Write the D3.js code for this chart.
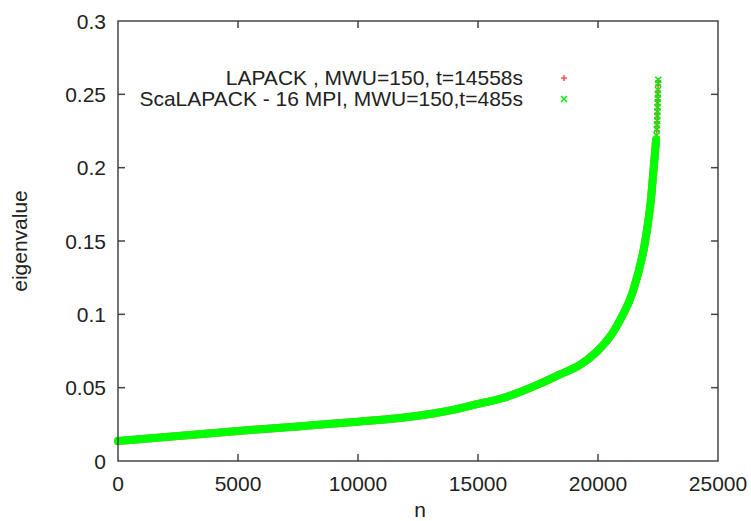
<!DOCTYPE html>
<html lang="en">
<head>
    <meta charset="UTF-8">
    <title>eigenvalue</title>
    <style>
        body { margin : 0; background : #fff }
        svg { display : block }
        text { font-family : "Liberation Sans", Arial, sans-serif; font-size : 21px; fill : #222 }
    </style>
</head>
<body>
    <script src="https://cdnjs.cloudflare.com/ajax/libs/d3/7.8.2/d3.min.js"></script>
    <script>

        // values
        const curveN = [0, 1000, 2500, 5000, 7500, 10000, 11750, 13000, 14000, 15000, 16000, 16750, 17583,
            18417, 19250, 19945, 20500, 20917, 21264, 21472, 21875, 22170, 22300, 22420]
        const curveVal = [0.0136, 0.0150, 0.0170, 0.0205, 0.0236, 0.0268, 0.0293, 0.0320, 0.0350, 0.0389, 0.0428, 0.0470, 0.0527,
            0.0590, 0.0655, 0.0745, 0.0848, 0.0961, 0.1075, 0.1166, 0.1418, 0.173, 0.196, 0.219]

        // isolated points at the top end
        const topN = [22440, 22450, 22460, 22465, 22470, 22475, 22480, 22485, 22490, 22495, 22500, 22505, 22510]
        const topVal = [0.222, 0.226, 0.229, 0.232, 0.235, 0.238, 0.241, 0.244, 0.247, 0.250, 0.253, 0.257, 0.260]

        const xTicks = [0, 5000, 10000, 15000, 20000, 25000]
        const yTicks = [0, 0.05, 0.1, 0.15, 0.2, 0.25, 0.3]
        const legendLabels = ["LAPACK , MWU=150, t=14558s", "ScaLAPACK - 16 MPI, MWU=150,t=485s"]

        const w = 751
        const h = 521
        const m = {l : 118, r : 33, t : 21, b : 60}

        const svg = d3.select("body")
            .append("svg")
                .attr("width", w)
                .attr("height", h)

        const x = d3.scaleLinear().domain([0, 25000]).range([m.l, w - m.r])
        const y = d3.scaleLinear().domain([0, 0.3]).range([h - m.b, m.t])

        const curve = curveN.map((n, i) => ({n : n, v : curveVal[i]}))
        const tops = topN.map((n, i) => ({n : n, v : topVal[i]}))

        const line = d3.line().x(d => x(d.n)).y(d => y(d.v)).curve(d3.curveCatmullRom.alpha(0.5))

        // red series (mostly hidden under green)
        svg.append("path")
            .datum(curve)
            .attr("d", line)
            .attr("fill", "none")
            .attr("stroke", "#ff6060")
            .attr("stroke-width", 8)
            .attr("stroke-linecap", "round")

        const plus = (g, cx, cy, s, col) => {
            g.append("path")
                .attr("d", `M${cx - s},${cy}H${cx + s}M${cx},${cy - s}V${cy + s}`)
                .attr("stroke", col).attr("stroke-width", 1.5)
        }
        const cross = (g, cx, cy, s, col) => {
            g.append("path")
                .attr("d", `M${cx - s},${cy - s}L${cx + s},${cy + s}M${cx - s},${cy + s}L${cx + s},${cy - s}`)
                .attr("stroke", col).attr("stroke-width", 1.5)
        }

        const gTop = svg.append("g")
        tops.forEach(d => plus(gTop, x(d.n), y(d.v) + 1, 3, "#ff5050"))

        // green series
        svg.append("path")
            .datum(curve)
            .attr("d", line)
            .attr("fill", "none")
            .attr("stroke", "#00ff00")
            .attr("stroke-width", 8)
            .attr("stroke-linecap", "round")

        tops.forEach(d => cross(gTop, x(d.n), y(d.v), 3, "#00ee00"))

        // frame + ticks
        const ax = svg.append("g").attr("stroke", "#444").attr("stroke-width", 1.5)
        ax.append("rect")
            .attr("x", x(0)).attr("y", y(0.3))
            .attr("width", x(25000) - x(0)).attr("height", y(0) - y(0.3))
            .attr("fill", "none")

        xTicks.slice(1, -1).forEach(t => {
            ax.append("line").attr("x1", x(t)).attr("x2", x(t)).attr("y1", y(0)).attr("y2", y(0) - 7)
            ax.append("line").attr("x1", x(t)).attr("x2", x(t)).attr("y1", y(0.3)).attr("y2", y(0.3) + 7)
        })
        yTicks.slice(1, -1).forEach(t => {
            ax.append("line").attr("x1", x(0)).attr("x2", x(0) + 7).attr("y1", y(t)).attr("y2", y(t))
            ax.append("line").attr("x1", x(25000)).attr("x2", x(25000) - 7).attr("y1", y(t)).attr("y2", y(t))
        })

        svg.selectAll(".xl")
            .data(xTicks)
            .enter()
            .append("text")
                .attr("x", d => x(d))
                .attr("y", y(0) + 30)
                .attr("text-anchor", "middle")
                .text(d => d)

        svg.selectAll(".yl")
            .data(yTicks)
            .enter()
            .append("text")
                .attr("x", x(0) - 12)
                .attr("y", d => y(d) + 7.5)
                .attr("text-anchor", "end")
                .text(d => d)

        svg.append("text")
            .attr("x", 420).attr("y", 517)
            .attr("text-anchor", "middle")
            .text("n")

        svg.append("text")
            .attr("transform", "translate(27,241) rotate(-90)")
            .attr("text-anchor", "middle")
            .text("eigenvalue")

        // legend
        const lg = svg.append("g")
        legendLabels.forEach((s, i) => {
            lg.append("text")
                .attr("x", 523).attr("y", 85 + i * 21)
                .attr("text-anchor", "end")
                .text(s)
        })
        plus(lg, 564, 78, 3, "#ff5050")
        cross(lg, 564, 99, 3, "#00ee00")

    </script>
</body>
</html>
